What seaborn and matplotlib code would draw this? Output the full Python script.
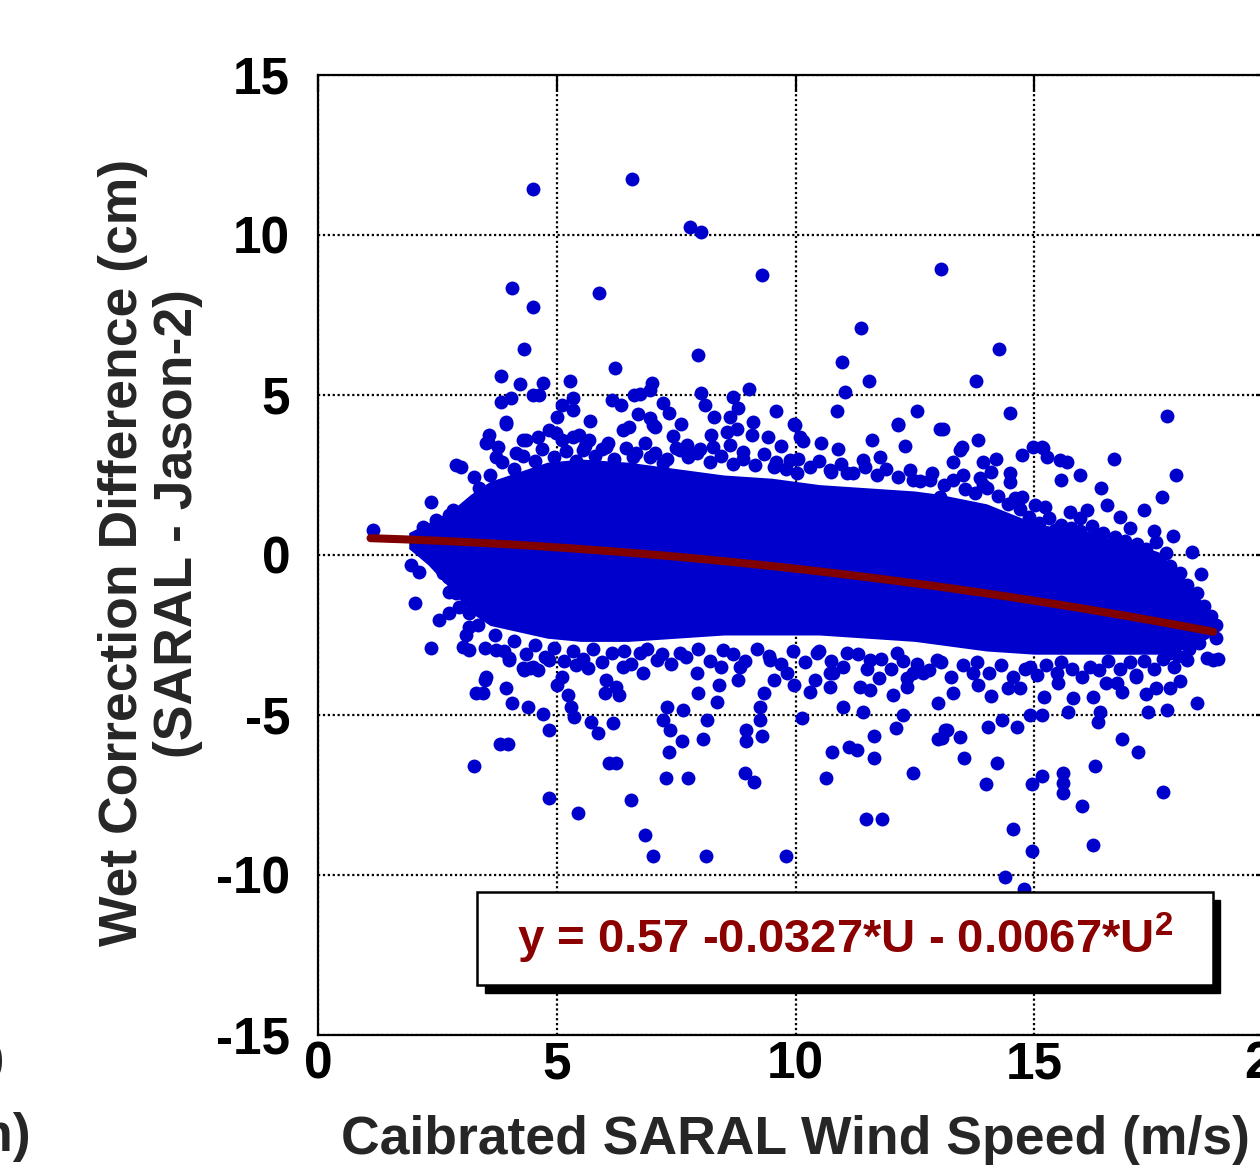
import numpy as np
import pandas as pd
import matplotlib
matplotlib.use("Agg")
import matplotlib.pyplot as plt
from matplotlib.patches import Rectangle
import seaborn as sns

sns.set_style("white")
plt.rcParams['font.family'] = ['Liberation Sans', 'DejaVu Sans']
plt.rcParams['font.weight'] = 'bold'
plt.rcParams['axes.unicode_minus'] = False
plt.rcParams['mathtext.fontset'] = 'custom'
plt.rcParams['mathtext.rm'] = 'Liberation Sans:bold'
plt.rcParams['mathtext.bf'] = 'Liberation Sans:bold'

# --- data ---
# individual points outside the solid cloud (wind speed m/s, difference cm)
pt_x = [4.50, 6.58, 7.79, 8.02, 9.30, 13.04, 4.06, 4.50, 5.88, 11.37, 4.32, 14.27, 7.95, 10.98,
        6.23, 3.83, 11.53, 13.77, 4.22, 4.72, 5.28, 11.04, 9.03, 6.62, 3.83, 4.04, 4.50, 4.62,
        5.12, 5.33, 5.33, 3.94, 6.16, 6.35, 10.86, 12.54, 14.49, 17.79, 12.15, 13.03, 13.08, 9.97,
        10.09, 10.16, 10.53, 9.59, 9.42, 8.70, 8.80, 8.63, 8.02, 8.10, 6.74, 6.99, 6.95, 7.23,
        7.36, 6.95, 7.06, 7.44, 7.72, 8.24, 8.56, 8.77, 9.08, 3.59, 3.52, 4.36, 4.60, 4.84,
        4.98, 5.12, 5.47, 5.68, 6.07, 6.52, 13.48, 13.83, 14.98, 15.16, 13.45, 13.93, 13.51, 13.86,
        13.93, 14.49, 14.49, 14.74, 15.19, 15.26, 15.54, 15.68, 15.57, 15.96, 16.68, 17.96, 17.67, 16.40,
        16.52, 16.10, 15.96, 15.78, 16.08, 16.27, 17.00, 17.51, 14.60, 14.74, 15.02, 15.23, 15.43, 1.15,
        2.37, 2.89, 3.00, 3.27, 3.38, 3.45, 3.55, 3.76, 3.73, 3.94, 4.29, 4.15, 5.33, 5.54,
        6.03, 6.38, 2.19, 2.47, 2.75, 2.82, 7.02, 9.99, 12.15, 7.58, 7.93, 8.28, 8.63, 8.91,
        9.88, 10.03, 9.54, 10.72, 11.07, 11.42, 11.77, 12.47, 12.82, 13.03, 7.23, 6.95, 6.67,
        6.74, 7.09, 7.58, 7.93, 8.49, 8.84, 9.47, 9.82, 10.44, 10.72, 11.07, 11.56, 12.12, 12.47, 12.96,
        3.50, 3.31, 3.45, 3.94, 4.06, 4.39, 4.72, 4.84, 3.82, 3.97, 3.27, 4.83, 5.45, 5.00,
        5.23, 5.30, 5.37, 5.72, 5.86, 6.17, 6.10, 6.24, 6.55, 4.43, 4.60, 4.32, 4.00, 5.40,
        5.65, 6.03, 6.24, 6.38, 6.00, 6.31, 6.85, 7.01, 8.13, 9.80, 7.29, 7.74, 7.36, 7.63,
        8.07, 8.94, 9.13, 8.96, 8.96, 9.30, 10.64, 10.76, 11.12, 11.28, 11.65, 11.65, 11.48, 11.82,
        12.47, 12.10, 12.99, 7.23, 7.37, 7.30, 7.65, 8.14, 8.36, 8.40, 9.26, 9.26, 9.33, 10.13,
        9.97, 10.30, 11.00, 11.42, 11.35, 11.56, 12.05, 12.26, 12.33, 12.33, 12.99, 13.13, 12.68, 10.72,
        10.79, 14.39, 14.79, 14.95, 14.55, 16.22, 16.00, 17.69, 15.61, 15.61, 15.61, 15.16, 14.95, 13.99,
        14.21, 13.53, 16.27, 16.83, 17.18, 18.40, 17.77, 17.39, 17.56, 17.84, 16.34, 16.38, 16.24, 15.82,
        15.71, 15.16, 14.91, 14.63, 14.32, 14.04, 13.45, 13.17, 13.06, 15.50, 14.46, 13.83, 16.83, 16.73,
        17.14, 18.19, 18.61, 17.14, 17.84, 17.92, 13.72, 14.91, 15.47, 16.17, 18.74,
        1.95, 2.12, 2.04, 2.37, 2.54, 2.75, 2.61, 2.72, 2.75, 3.03, 3.17, 3.52, 3.73, 4.01,
        4.29, 4.50, 4.84, 2.96, 3.17, 3.17]
pt_y = [11.43, 11.75, 10.26, 10.10, 8.75, 8.94, 8.35, 7.76, 8.18, 7.08, 6.43, 6.43, 6.25, 6.02,
        5.83, 5.59, 5.44, 5.44, 5.34, 5.36, 5.45, 5.08, 5.18, 5.00, 4.79, 4.90, 5.00, 5.00,
        4.69, 4.90, 4.53, 4.17, 4.84, 4.69, 4.51, 4.51, 4.43, 4.34, 4.09, 3.94, 3.93, 4.09,
        3.70, 3.57, 3.51, 4.51, 3.70, 4.95, 4.58, 4.32, 5.05, 4.69, 5.02, 5.37, 5.16, 4.74,
        4.43, 4.27, 4.00, 3.72, 3.44, 3.75, 3.85, 3.93, 3.75, 3.75, 3.50, 3.60, 3.70, 3.90,
        3.80, 3.60, 3.75, 3.60, 3.50, 4.00, 3.38, 3.60, 3.38, 3.38, 3.28, 2.92, 2.50, 2.40,
        2.19, 2.55, 2.29, 3.13, 3.33, 3.07, 2.97, 2.92, 2.34, 2.50, 3.00, 2.50, 1.82, 2.08,
        1.56, 1.40, 1.15, 0.85, 0.52, 0.52, 0.85, 0.75, 1.77, 1.82, 1.56, 1.51, 0.78, 0.78,
        1.67, 2.81, 2.76, 2.45, 2.08, 1.98, 3.54, 3.38, 3.07, 4.10, 3.60, 3.18, 3.70, 3.28,
        3.38, 3.90, 0.88, 1.09, 1.25, 1.41, 4.06, 4.06, 4.06, 3.28, 3.18, 3.38, 3.44, 3.23,
        2.97, 2.55, 2.76, 2.66, 2.55, 2.97, 3.07, 2.34, 2.34, 1.82, 2.87, 3.07, 3.18,
        -3.07, -3.28, -3.07, -3.70, -2.97, -3.49, -3.28, -3.70, -3.07, -3.70, -3.07, -3.28, -3.07, -3.70, -3.28,
        -3.90, -4.32, -4.32, -4.17, -4.63, -4.74, -4.98, -5.47, -5.92, -5.92, -6.59, -7.58, -8.07, -4.06,
        -4.38, -4.74, -5.05, -5.21, -5.57, -5.24, -6.49, -6.49, -7.66, -3.54, -3.59, -3.59, -3.28, -3.44,
        -3.54, -3.90, -4.12, -3.49, -4.32, -4.38, -8.75, -9.41, -9.41, -9.41, -6.98, -6.98, -6.17, -5.81,
        -5.75, -6.82, -7.08, -5.81, -5.47, -5.66, -6.98, -6.17, -5.99, -6.09, -5.66, -6.33, -8.26, -8.26,
        -6.82, -5.42, -5.75, -5.16, -5.47, -4.74, -4.84, -5.16, -4.58, -4.06, -5.16, -4.74, -4.32, -5.10,
        -4.06, -4.27, -4.74, -4.90, -4.12, -4.22, -4.38, -5.00, -3.85, -4.12, -4.63, -5.47, -3.70, -4.12,
        -3.70, -10.07, -10.45, -9.25, -8.57, -9.06, -7.83, -7.42, -6.82, -7.14, -7.43, -6.91, -7.16, -7.16,
        -6.49, -6.33, -6.58, -5.75, -6.17, -4.63, -4.84, -4.90, -4.17, -4.17, -5.21, -4.90, -4.43, -4.48,
        -4.90, -5.00, -5.00, -5.37, -5.16, -5.37, -5.68, -5.47, -5.73, -4.01, -4.17, -4.06, -4.27, -4.01,
        -3.80, -3.28, -3.23, -3.75, -3.07, -3.49, -3.70, -3.49, -3.70, -3.49, -3.28,
        -0.31, -0.52, -1.49, -2.92, -2.03, -1.82, -0.57, -0.68, -1.15, -2.86, -2.97, -3.80, -2.97, -3.23,
        -3.54, -3.49, -3.28, -1.61, -1.82, -2.24]

# crowded points hugging the solid cloud, upper side
edge_up_x = [3.60, 3.85, 4.10, 4.30, 4.55, 4.70, 4.95, 5.20, 5.40, 5.60, 5.80, 5.95, 6.20, 6.45,
             6.60, 6.85, 7.05, 7.30, 7.50, 7.75, 8.00, 8.20, 8.45, 8.70, 8.90, 9.15, 9.35, 9.60,
             9.80, 10.05, 10.30, 10.50, 10.75, 10.95, 11.20, 11.45, 11.70, 11.90, 12.15, 12.40, 12.60, 12.85,
             13.10, 13.30, 13.55, 13.75, 14.00, 14.25, 14.45, 14.70, 14.90, 15.10, 15.30, 15.55, 15.75, 15.95,
             16.20, 16.45, 16.70, 16.90, 17.15, 17.35, 17.55, 17.75, 17.85, 18.05, 18.20, 18.40, 18.55, 18.70,
             18.80, 5.00, 5.70, 6.70, 7.60, 8.30, 9.10, 9.70, 10.90, 11.60, 12.30, 13.30, 14.20, 14.10,
             16.80, 17.30, 17.90, 18.30, 18.50]
edge_up_y = [2.50, 2.90, 2.70, 3.10, 2.95, 3.30, 3.05, 3.25, 2.95, 3.40, 3.10, 3.30, 3.00, 3.35,
             3.05, 3.50, 3.20, 3.00, 3.35, 3.05, 3.30, 2.90, 3.10, 2.85, 3.00, 2.80, 3.15, 2.90,
             2.70, 3.00, 2.75, 2.95, 2.60, 2.85, 2.55, 2.75, 2.50, 2.70, 2.45, 2.65, 2.30, 2.55,
             2.20, 2.35, 2.05, 1.95, 2.10, 1.85, 1.60, 1.45, 1.20, 1.00, 1.15, 0.95, 1.35, 0.75,
             0.90, 0.70, 0.55, 0.45, 0.35, 0.20, 0.40, 0.05, -0.35, -0.55, -0.95, -1.20, -1.60, -1.90,
             -2.20, 4.30, 4.20, 4.40, 4.10, 4.30, 4.15, 3.40, 3.30, 3.60, 3.40, 2.90, 3.00, 2.60,
             1.20, 1.40, 0.60, 0.10, -0.60]

# crowded points hugging the solid cloud, lower side
edge_lo_x = [2.90, 3.10, 3.35, 3.50, 3.70, 3.90, 4.10, 4.35, 4.55, 4.75, 4.95, 5.15, 5.35, 5.55,
             5.75, 5.95, 6.15, 6.40, 6.55, 6.90, 7.20, 7.40, 7.70, 7.95, 8.20, 8.45, 8.70, 8.95,
             9.20, 9.45, 9.70, 9.95, 10.20, 10.50, 10.75, 11.00, 11.30, 11.50, 11.80, 12.00, 12.25, 12.55,
             12.80, 13.05, 13.25, 13.50, 13.80, 14.05, 14.30, 14.55, 14.80, 15.05, 15.25, 15.55, 15.80, 16.00,
             16.35, 16.55, 16.80, 17.00, 17.30, 17.50, 17.70, 18.00, 18.25, 18.45, 18.80, 18.85,
             5.10, 6.80, 7.95, 8.80, 9.55, 10.40, 11.75, 13.30, 14.10, 14.70, 15.20, 16.50, 17.35, 18.05]
edge_lo_y = [-1.20, -2.50, -2.20, -2.90, -2.50, -3.00, -2.70, -3.10, -2.80, -3.20, -2.90, -3.30, -3.00, -3.25,
             -2.95, -3.35, -3.05, -3.00, -3.40, -2.95, -3.10, -3.40, -3.20, -2.95, -3.30, -3.50, -3.10, -3.30,
             -2.95, -3.15, -3.40, -3.00, -3.35, -3.00, -3.30, -3.50, -3.10, -3.55, -3.25, -3.55, -3.30, -3.40,
             -3.60, -3.35, -3.80, -3.45, -3.35, -3.70, -3.45, -3.80, -3.55, -3.75, -3.45, -3.35, -3.55, -3.80,
             -3.60, -3.30, -3.55, -3.35, -3.30, -3.55, -3.25, -3.15, -2.95, -2.75, -2.60, -3.25,
             -3.80, -3.70, -4.30, -3.90, -3.90, -3.90, -3.85, -4.30, -4.40, -4.15, -4.45, -4.00, -4.35, -3.95]

# upper / lower edge of the solid part of the cloud
core_x = [1.9, 2.3, 2.8, 3.2, 3.6, 4.2, 4.8, 5.5, 6.5, 7.5, 8.5, 9.5, 10.5, 11.5,
          12.5, 13.0, 14.0, 15.0, 16.0, 17.0, 17.6, 18.0, 18.4, 18.75]
core_top = [0.7, 1.0, 1.4, 1.9, 2.3, 2.6, 2.9, 3.0, 2.9, 2.7, 2.5, 2.4, 2.2, 2.1,
            2.0, 1.9, 1.6, 1.0, 0.7, 0.4, 0.1, -0.5, -1.2, -2.0]
core_bot = [0.2, -0.3, -1.1, -1.8, -2.2, -2.4, -2.6, -2.7, -2.7, -2.6, -2.5, -2.5, -2.5, -2.6,
            -2.7, -2.8, -3.0, -3.1, -3.1, -3.1, -3.1, -3.0, -2.8, -2.5]

# quadratic fit printed on the chart: y = a + b*U + c*U^2
fit_coef = [0.57, -0.0327, -0.0067]
fit_lo, fit_hi = 1.1, 18.75

BLUE = "#0000CD"
DARKRED = "#800000"

fig = plt.figure(figsize=(12.6, 11.69), dpi=100)
W, H = 1260, 1169
ax = fig.add_axes([318 / W, 1 - 1035 / H, 955 / W, 960 / H])

ax.fill_between(core_x, core_bot, core_top, color=BLUE, linewidth=0, zorder=2)
pts = pd.DataFrame({"U": pt_x + edge_up_x + edge_lo_x,
                    "d": pt_y + edge_up_y + edge_lo_y})
sns.scatterplot(data=pts, x="U", y="d", ax=ax, color=BLUE, s=100, linewidth=0,
                marker="o", zorder=3, legend=False)

u = np.linspace(fit_lo, fit_hi, 200)
fit = pd.DataFrame({"U": u, "y": fit_coef[0] + fit_coef[1] * u + fit_coef[2] * u ** 2})
sns.lineplot(data=fit, x="U", y="y", ax=ax, color=DARKRED, linewidth=5.8, zorder=4)

ax.set_xlim(0, 20)
ax.set_ylim(-15, 15)
ax.set_xticks([0, 5, 10, 15, 20])
ax.set_yticks([-15, -10, -5, 0, 5, 10, 15])
ax.grid(True, color="black", linestyle=(0, (1, 1.2)), linewidth=1.6, zorder=1)
ax.set_axisbelow(True)
for sp in ax.spines.values():
    sp.set_linewidth(1.6)
    sp.set_color("black")
ax.tick_params(direction="in", length=12, width=1.6, top=True, right=True,
               labelsize=37, colors="black")
ax.tick_params(axis="y", pad=20)
ax.tick_params(axis="x", pad=4)
ax.set_xlabel("Caibrated SARAL Wind Speed (m/s)", fontsize=38.5, fontweight="bold", labelpad=18)
ax.set_ylabel("")

# y label, two centred lines
fig.text(123 / W, 1 - 552 / H, "Wet Correction Difference (cm)", rotation=90,
         ha="center", va="center", fontsize=38.5, fontweight="bold")
fig.text(178 / W, 1 - 524 / H, "(SARAL - Jason-2)", rotation=90,
         ha="center", va="center", fontsize=38.5, fontweight="bold")

# remnants of the neighbouring panel at the left edge
fig.text(4 / W, 1 - 1066 / H, "20", ha="right", va="center", fontsize=37, fontweight="bold")
fig.text(31 / W, 1 - 1137 / H, "Difference (cm)", ha="right", va="center",
         fontsize=38.5, fontweight="bold")

# equation box with drop shadow
bx, by, bw, bh = 3.33, -13.44, 15.41, 2.91
ax.add_patch(Rectangle((bx + 0.16, by - 0.24), bw, bh, facecolor="black",
                       edgecolor="black", zorder=6))
ax.add_patch(Rectangle((bx, by), bw, bh, facecolor="white", edgecolor="black",
                       linewidth=1.8, zorder=7))
ax.text(bx + bw / 2, by + bh / 2, r"y = 0.57 -0.0327*U - 0.0067*U$^\mathbf{2}$",
        ha="center", va="center", fontsize=34, fontweight="bold", color="#8B0000", zorder=8)

fig.savefig("out.png", dpi=100)
